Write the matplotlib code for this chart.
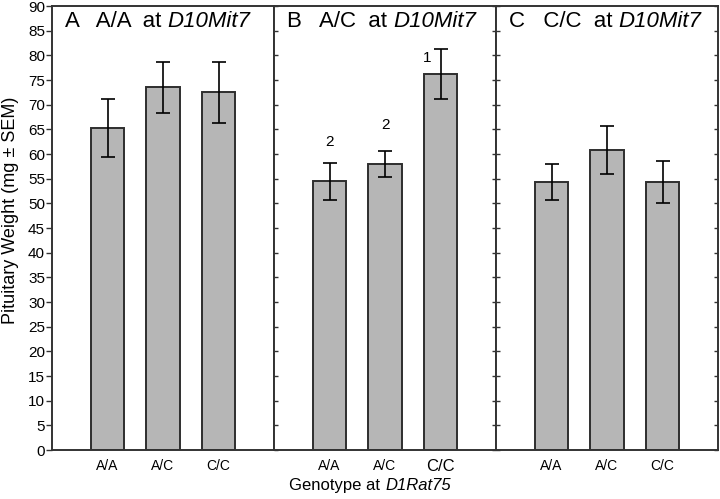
#!/usr/bin/env python3
"""
Pituitary weight by genotype at D1Rat75, split by D10Mit7 genotype
"""

import matplotlib
matplotlib.use('Agg')
import matplotlib.pyplot as plt
import numpy as np

plt.rcParams['font.family'] = ['Liberation Sans', 'DejaVu Sans']

genotypes = ['A/A', 'A/C', 'C/C']
panel_letters = ['A', 'B', 'C']
panel_genotypes = ['A/A', 'A/C', 'C/C']

# mean pituitary weight (mg) and SEM, one row per D10Mit7 panel
means = [
    [65.3, 73.5, 72.5],
    [54.5, 58.0, 76.2],
    [54.3, 60.8, 54.3],
]
sems = [
    [5.9, 5.25, 6.2],
    [3.75, 2.65, 5.05],
    [3.6, 4.9, 4.2],
]

# significance letters in panel B
sig_letters = ['2', '2', '1']
sig_y = [62.5, 65.8, 79.5]
sig_dx = [0.0, 0.0, -0.25]

BAR_COLOR = '#b6b6b6'
EDGE_COLOR = '#2e2e2e'
SPINE_COLOR = '#333333'

fig = plt.figure(figsize=(7.2, 4.99), dpi=100)

left = 52 / 720
pw = 222 / 720
bottom = 49 / 499
height = 444 / 499

x = np.arange(len(genotypes))
axes = []
for i in range(3):
    ax = fig.add_axes([left + i * pw, bottom, pw, height])
    axes.append(ax)

    ax.bar(x, means[i], width=0.61, color=BAR_COLOR, edgecolor=EDGE_COLOR,
           linewidth=1.4, zorder=2)
    ax.errorbar(x, means[i], yerr=sems[i], fmt='none', ecolor='black',
                elinewidth=1.2, capsize=5, capthick=1.2, zorder=3)

    ax.set_xlim(-1, 3)
    ax.set_ylim(0, 90)
    ax.set_yticks(np.arange(0, 91, 5))
    ax.set_xticks(x)
    ax.set_xticklabels(genotypes, fontsize=10)
    ax.tick_params(axis='x', length=0, pad=6.5)

    for s in ax.spines.values():
        s.set_color(SPINE_COLOR)
        s.set_linewidth(1.4)

    if i == 0:
        ax.tick_params(axis='y', direction='out', length=4, width=1,
                       color=SPINE_COLOR, labelsize=11, pad=1)
    else:
        ax.tick_params(axis='y', direction='in', length=3, width=1,
                       color=SPINE_COLOR, left=True, right=True,
                       labelleft=False)

    # panel title: upright part followed by italic marker name
    t1 = ax.text(0.058, 0.988,
                 panel_letters[i] + '   ' + panel_genotypes[i] + '  at ',
                 transform=ax.transAxes, ha='left', va='top', fontsize=16)
    ax.annotate('D10Mit7', xy=(1, 0), xycoords=t1, ha='left', va='bottom',
                fontsize=16, style='italic')

# panel B: larger C/C label and significance letters
axes[1].get_xticklabels()[2].set_fontsize(12)
for j in range(3):
    axes[1].text(x[j] + sig_dx[j], sig_y[j], sig_letters[j], ha='center',
                 va='center', fontsize=11)

# y label
fig.text(11 / 720, 1 - 210 / 499, 'Pituitary Weight (mg ± SEM)', rotation=90,
         ha='center', va='center', fontsize=13)

# x label with italic marker name
fig.text(385 / 720, 9 / 499, 'Genotype at ', ha='right', va='baseline',
         fontsize=12)
fig.text(385 / 720, 9 / 499, 'D1Rat75', ha='left', va='baseline',
         fontsize=12, style='italic')

fig.savefig('out.png', dpi=100)
plt.close(fig)
